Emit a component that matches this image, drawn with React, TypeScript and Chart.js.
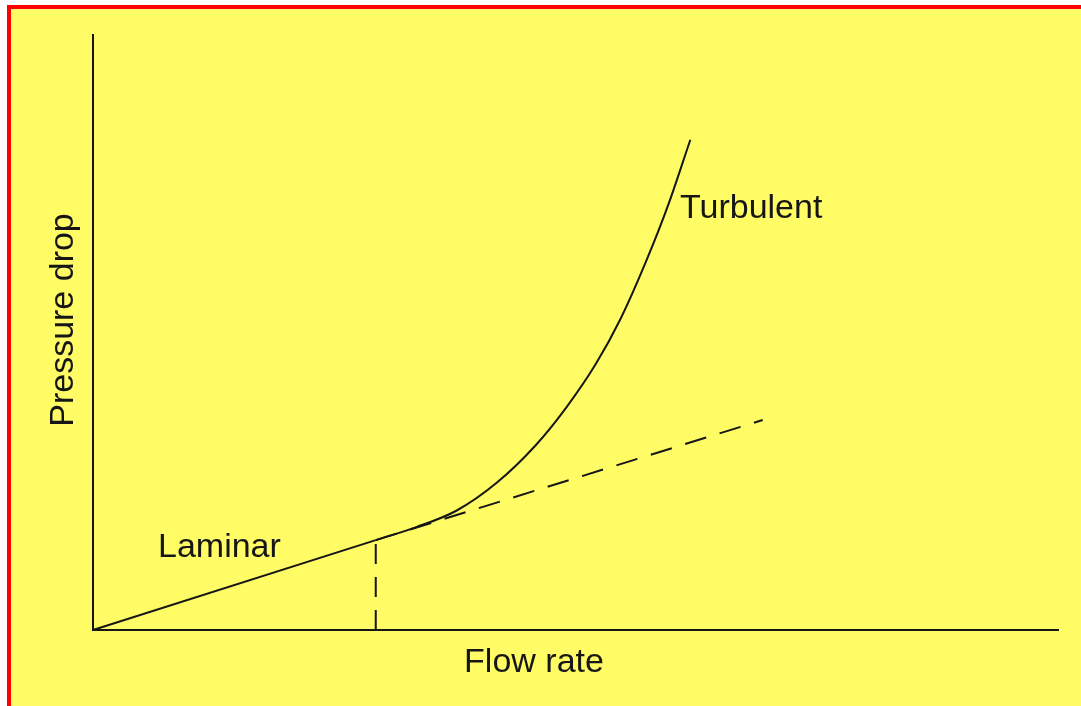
import React, { useEffect, useRef } from "react";
import { Chart, registerables } from "chart.js";

Chart.register(...registerables);

// Laminar region (straight line from origin to transition)
const laminarFlow = [0, 2.93];
const laminarDrop = [0, 1.51];

// Dashed extrapolation of the laminar line
const extensionFlow = [2.93, 6.94];
const extensionDrop = [1.51, 3.53];

// Vertical dashed marker at the transition flow rate
const transitionFlow = [2.93, 2.93];
const transitionDrop = [0, 1.51];

// Turbulent curve
const turbulentFlow = [2.93, 3.35, 3.76, 4.18, 4.59, 4.9, 5.21, 5.47, 5.73, 5.96, 6.19];
const turbulentDrop = [1.51, 1.73, 2.0, 2.47, 3.11, 3.73, 4.47, 5.24, 6.19, 7.14, 8.24];

const axisTitleX = "Flow rate";
const axisTitleY = "Pressure drop";
const regionLabels = ["Laminar", "Turbulent"];

const INK = "#161616";
const FONT = '34px "Liberation Sans", Arial, Helvetica, sans-serif';

function pts(xs: number[], ys: number[]) {
  return xs.map((x, i) => ({ x, y: ys[i] }));
}

export default function App() {
  const ref = useRef<HTMLCanvasElement>(null);

  useEffect(() => {
    if (!ref.current) return;

    const textPlugin = {
      id: "textLabels",
      afterDatasetsDraw(chart: any) {
        const { ctx, chartArea } = chart;
        ctx.save();
        ctx.fillStyle = INK;
        ctx.font = FONT;
        ctx.textBaseline = "alphabetic";
        ctx.textAlign = "left";
        ctx.fillText(regionLabels[0], 158, 557);
        ctx.fillText(regionLabels[1], 680, 218);
        ctx.textAlign = "center";
        ctx.fillText(axisTitleX, 534, chartArea.bottom + 42);
        ctx.translate(chartArea.left - 20, 320);
        ctx.rotate(-Math.PI / 2);
        ctx.fillText(axisTitleY, 0, 0);
        ctx.restore();
      },
    };

    const base = {
      showLine: true,
      borderColor: INK,
      borderWidth: 2,
      pointRadius: 0,
      pointHoverRadius: 0,
      fill: false,
      clip: false as any,
    };

    const chart = new Chart(ref.current, {
      type: "scatter",
      data: {
        datasets: [
          { ...base, label: "Laminar", data: pts(laminarFlow, laminarDrop) },
          {
            ...base,
            label: "Laminar extrapolation",
            data: pts(extensionFlow, extensionDrop),
            borderDash: [22, 14],
          },
          {
            ...base,
            label: "Transition",
            data: pts(transitionFlow, transitionDrop),
            borderDash: [20, 13],
          },
          {
            ...base,
            label: "Turbulent",
            data: pts(turbulentFlow, turbulentDrop),
            cubicInterpolationMode: "monotone",
          },
        ],
      },
      options: {
        animation: false,
        responsive: false,
        devicePixelRatio: 1,
        events: [],
        layout: { padding: { left: 85, top: 35, right: 23, bottom: 68 } },
        plugins: {
          legend: { display: false },
          tooltip: { enabled: false },
          title: { display: false },
        },
        scales: {
          x: {
            type: "linear",
            min: 0,
            max: 10,
            grid: { display: false },
            ticks: { display: false },
            border: { display: true, color: INK, width: 2 },
          },
          y: {
            type: "linear",
            min: 0,
            max: 10,
            grid: { display: false },
            ticks: { display: false },
            border: { display: true, color: INK, width: 2 },
          },
        },
      },
      plugins: [textPlugin],
    });

    return () => chart.destroy();
  }, []);

  return (
    <div
      style={{
        position: "fixed",
        left: 0,
        top: 0,
        width: 1081,
        height: 706,
        background: "#ffffff",
        overflow: "hidden",
      }}
    >
      <div
        style={{
          position: "absolute",
          left: 7,
          top: 5,
          right: 0,
          bottom: 0,
          background: "#FFFC66",
          borderTop: "4px solid #ff0000",
          borderLeft: "4px solid #ff0000",
        }}
      />
      <canvas
        ref={ref}
        width={1081}
        height={706}
        style={{ position: "absolute", left: 0, top: 0, width: 1081, height: 706 }}
      />
    </div>
  );
}
